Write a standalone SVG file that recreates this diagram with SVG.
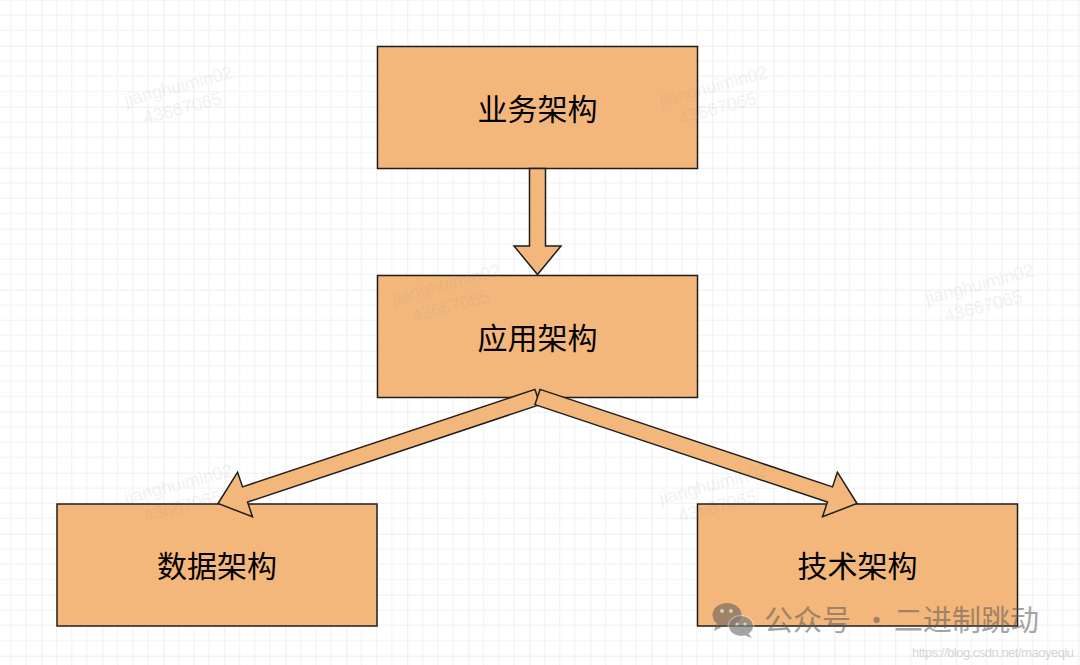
<svg xmlns="http://www.w3.org/2000/svg" width="1080" height="665" viewBox="0 0 1080 665">
<style>
.box{fill:#F4B77B;stroke:#1e1e1e;stroke-width:1.5}
.lbl{font-family:"Noto Sans CJK SC","Noto Sans",sans-serif;font-size:30px;font-weight:400;fill:#000;text-anchor:middle;dominant-baseline:central}
.arrow{fill:#F4B77B;stroke:#1e1e1e;stroke-width:1.5;stroke-linejoin:miter}
.wm{font-family:"Liberation Sans",Arial,sans-serif;font-size:18px;fill:#888;opacity:0.1;text-anchor:middle}
.brand{font-family:"Noto Sans CJK SC","Noto Sans",sans-serif;font-size:29px;fill:#5a5a5a;opacity:0.55}
</style>
<defs>
<pattern id="grid" patternUnits="userSpaceOnUse" x="41.3" y="45.7" width="61" height="61">
<path d="M15.25 0V61M30.5 0V61M45.75 0V61M0 15.25H61M0 30.5H61M0 45.75H61" stroke="#f1f1f1" stroke-width="1" fill="none"/>
<path d="M0 0V61M0 0H61" stroke="#dedede" stroke-width="1" fill="none"/>
</pattern>
</defs>
<rect x="0" y="0" width="1080" height="665" fill="#ffffff"/>
<rect x="0" y="0" width="1080" height="665" fill="url(#grid)"/>

<g id="node-business">
<rect class="box" x="377.5" y="46.5" width="320" height="122"/>
<text class="lbl" x="537.5" y="107">业务架构</text>
</g>
<g id="node-application">
<rect class="box" x="377.5" y="275.5" width="320" height="122"/>
<text class="lbl" x="537.5" y="336">应用架构</text>
</g>
<g id="node-data">
<rect class="box" x="57" y="504" width="320" height="122"/>
<text class="lbl" x="217" y="564">数据架构</text>
</g>
<g id="node-tech">
<rect class="box" x="697.5" y="504" width="320" height="122"/>
<text class="lbl" x="857.5" y="564">技术架构</text>
</g>

<g id="connectors">
<polygon class="arrow" points="529.5,168.5 545.5,168.5 545.5,246 561,246 537.5,274.5 514,246 529.5,246"/>
<polygon class="arrow" points="540.03,404.59 247.57,502.08 252.47,516.78 218,503.5 237.61,472.2 242.51,486.9 534.97,389.41"/>
<polygon class="arrow" points="534.97,404.59 827.43,502.08 822.53,516.78 857,503.5 837.39,472.2 832.49,486.9 540.03,389.41"/>
</g>

<g id="watermarks">
<text class="wm" transform="translate(180,92) rotate(-15)">jianghuimin02</text>
<text class="wm" transform="translate(184,114) rotate(-15)">43667065</text>
<text class="wm" transform="translate(715,92) rotate(-15)">jianghuimin02</text>
<text class="wm" transform="translate(719,114) rotate(-15)">43667065</text>
<text class="wm" transform="translate(448,290) rotate(-15)">jianghuimin02</text>
<text class="wm" transform="translate(452,312) rotate(-15)">43667065</text>
<text class="wm" transform="translate(981,290) rotate(-15)">jianghuimin02</text>
<text class="wm" transform="translate(985,312) rotate(-15)">43667065</text>
<text class="wm" transform="translate(180,490) rotate(-15)">jianghuimin02</text>
<text class="wm" transform="translate(184,512) rotate(-15)">43667065</text>
<text class="wm" transform="translate(715,490) rotate(-15)">jianghuimin02</text>
<text class="wm" transform="translate(719,512) rotate(-15)">43667065</text>
</g>

<g id="brand">
<g fill="#5a5a5a" opacity="0.55">
<ellipse cx="727" cy="615" rx="14.5" ry="12"/>
<path d="M716 624 L714 631 L722 627 Z"/>
</g>
<ellipse cx="741" cy="626" rx="13.5" ry="11" fill="#ffffff" opacity="0.35"/>
<g fill="#5a5a5a" opacity="0.55">
<ellipse cx="741" cy="626" rx="12" ry="10"/>
<path d="M748 633 L752 638 L744 635 Z"/>
</g>
<g fill="#ffffff" opacity="0.6">
<circle cx="722" cy="611" r="2"/>
<circle cx="731" cy="611" r="2"/>
<circle cx="737" cy="624" r="1.6"/>
<circle cx="745" cy="624" r="1.6"/>
</g>
<text class="brand" y="631"><tspan x="764">公众号</tspan><tspan x="862">·</tspan><tspan x="894">二进制跳动</tspan></text>
<text x="912" y="657" font-family="Liberation Sans, Arial, sans-serif" font-size="13" fill="#bbbbbb" opacity="0.6" textLength="162">https://blog.csdn.net/maoyeqiu</text>
</g>
</svg>
